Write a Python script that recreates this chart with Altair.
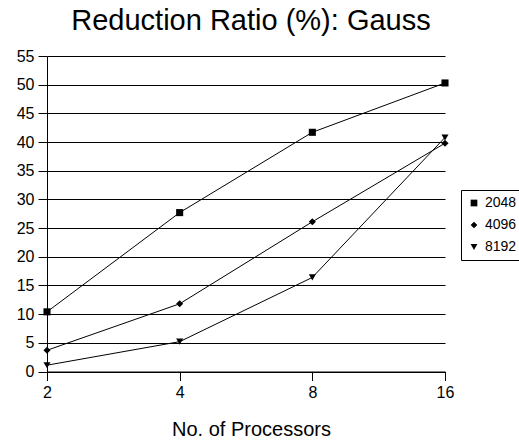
import altair as alt
import pandas as pd

processors = [2, 4, 8, 16]
series_names = ["2048", "4096", "8192"]
vals_2048 = [10.4, 27.7, 41.7, 50.3]
vals_4096 = [3.7, 11.8, 26.1, 39.8]
vals_8192 = [1.1, 5.2, 16.4, 40.8]
y_ticks = list(range(0, 56, 5))

rows = []
for name, vals in zip(series_names, [vals_2048, vals_4096, vals_8192]):
    for p, v in zip(processors, vals):
        rows.append({"procs": p, "ratio": v, "size": name})
df = pd.DataFrame(rows)

FONT = "Liberation Sans"

x = alt.X("procs:Q",
          scale=alt.Scale(type="log", base=2, domain=[2, 16], nice=False),
          axis=alt.Axis(values=processors, format="d", title="No. of Processors",
                        grid=False, tickSize=9, tickColor="black", domainColor="black",
                        labelFontSize=16, labelColor="black", labelPadding=4,
                        titleFontSize=20, titleFont=FONT, titleFontWeight="normal",
                        titleColor="black", titlePadding=19, titleX=204, labelFont=FONT,
                        labelFlush=False))
y = alt.Y("ratio:Q",
          scale=alt.Scale(domain=[0, 55], nice=False),
          axis=alt.Axis(values=y_ticks, title=None, grid=True, gridColor="black",
                        gridOpacity=1, gridWidth=1, tickSize=9, tickColor="black",
                        domainColor="black", labelFontSize=16, labelColor="black",
                        labelPadding=4, labelFont=FONT))

shape = alt.Shape("size:N",
                  scale=alt.Scale(domain=series_names,
                                  range=["square", "diamond", "triangle-down"]),
                  legend=alt.Legend(title=None, orient="none", legendX=414, legendY=134,
                                    strokeColor="black", padding=6, labelFontSize=14,
                                    labelFont=FONT, labelColor="black", rowPadding=8,
                                    symbolFillColor="black", symbolStrokeColor="black",
                                    symbolStrokeWidth=0,
                                    symbolSize=45, symbolOffset=0, labelOffset=4,
                                    cornerRadius=0, fillColor="white"))

lines = alt.Chart(df).mark_line(color="black", strokeWidth=1).encode(
    x=x, y=y, detail="size:N")
points = alt.Chart(df).mark_point(filled=True, color="black", opacity=1, size=50).encode(
    x=x, y=y, shape=shape)

chart = alt.layer(lines, points).properties(
    width=398, height=315.5,
    title=alt.TitleParams("Reduction Ratio (%): Gauss", fontSize=29, font=FONT,
                          fontWeight="normal", color="black", anchor="middle",
                          dx=5, offset=12),
    padding={"left": 47, "top": 56, "right": 74, "bottom": 70},
    autosize=alt.AutoSizeParams(type="none"),
    background="white",
).configure_view(stroke=None)

chart.save("out.html", embed_options={"renderer": "svg", "actions": False})
